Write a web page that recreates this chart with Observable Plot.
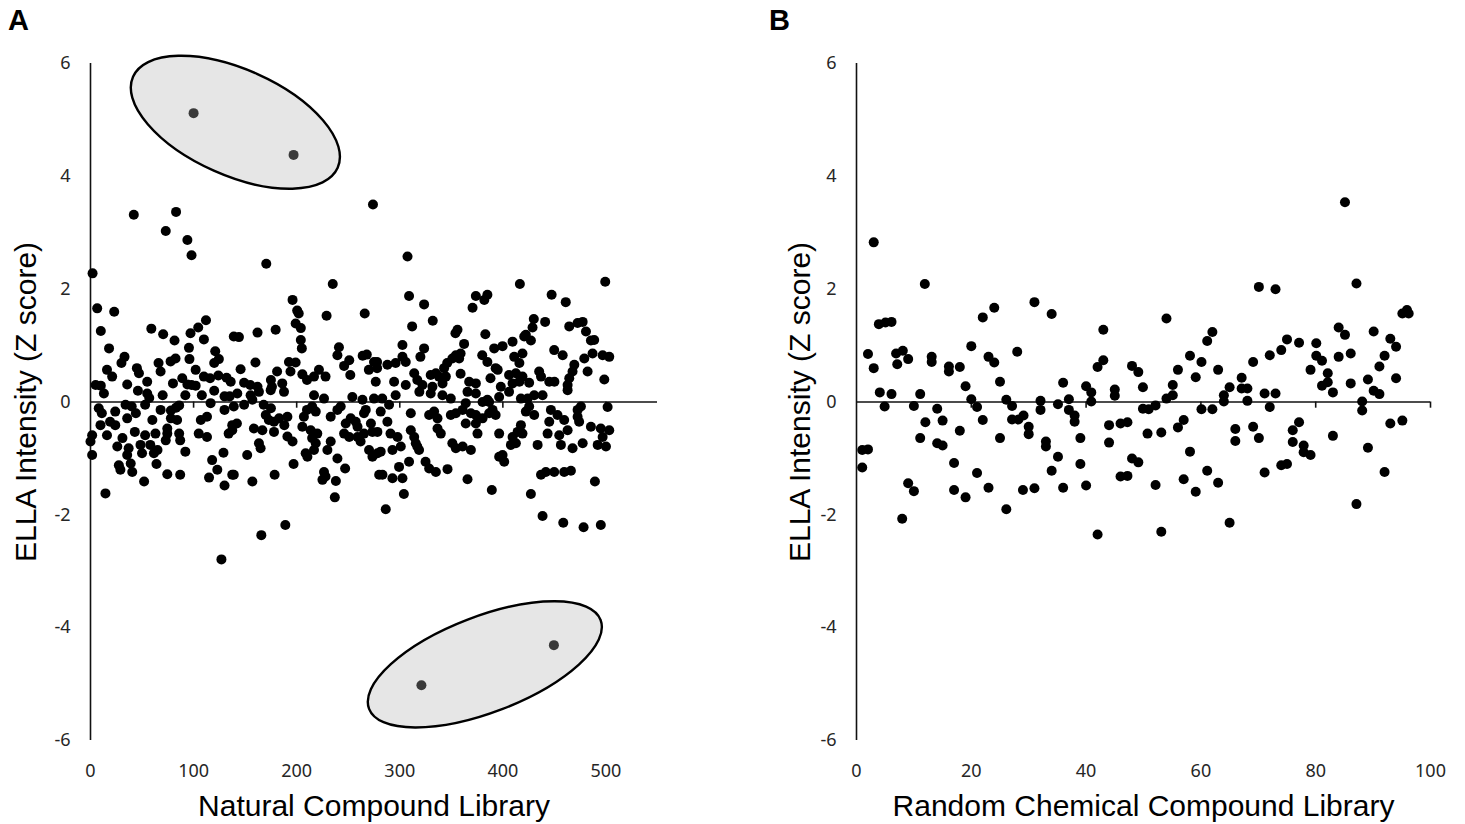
<!DOCTYPE html>
<html><head><meta charset="utf-8">
<script src="https://cdn.jsdelivr.net/npm/d3@7"></script>
<script src="https://cdn.jsdelivr.net/npm/@observablehq/plot@0.6"></script>
<style>
body{margin:0;background:#fff;}
#wrap{position:relative;width:1465px;height:824px;overflow:hidden;background:#fff;}
.letter{position:absolute;top:6px;font:bold 29px "Liberation Sans",Arial,sans-serif;line-height:29px;color:#000;}
.panel{position:absolute;top:0;}
</style></head>
<body><div id="wrap">
<div class="letter" style="left:8px">A</div>
<div class="letter" style="left:769px">B</div>
<div class="panel" id="pa" style="left:0px"></div>
<div class="panel" id="pb" style="left:765px"></div>
</div>
<script>
// ---------- data ----------
const yTicks = [-6, -4, -2, 0, 2, 4, 6];
const naturalTicks = [0, 100, 200, 300, 400, 500];
const randomTicks = [0, 20, 40, 60, 80, 100];
const yLabel = "ELLA Intensity (Z score)";
const naturalLabel = "Natural Compound Library";
const randomLabel = "Random Chemical Compound Library";

const naturalHighlighted = [[100,5.12],[197,4.38],[321,-5.02],[449.5,-4.31]];

const naturalPoints = [
[42,3.32],[83,3.37],[73,3.03],[94,2.87],[98,2.6],[2,2.28],[6.5,1.66],[23,1.6],[10,1.26],[59,1.3],[70.5,1.2],[81.5,1.09],[112,1.45],[104.5,1.32],[97,1.22],[110,1.11],[18,0.95],[95.5,0.96],[121,0.9],[33,0.8],[124.5,0.76],[82.5,0.77],[96,0.76],[30,0.69],[66,0.69],[77.7,0.72],[120,0.69],[45,0.6],[16,0.57],[68,0.54],[102,0.57],[47,0.51],[21,0.45],[89,0.42],[110,0.45],[116,0.42],[124,0.47],[132,0.43],[55,0.36],[5,0.3],[10,0.29],[35.6,0.31],[80,0.33],[98,0.3],[94,0.31],[102,0.29],[139,1.16],
[13,0.15],[46,0.2],[55,0.15],[57,0.07],[70,0.12],[92,0.12],[108,0.12],[120,0.2],[130,0.1],[135,0.1],[8,-0.11],[11,-0.2],[24,-0.17],[34,-0.05],[40,-0.08],[44,-0.2],[53,-0.05],[35.6,-0.29],[19,-0.35],[68,-0.14],[78,-0.15],[83,-0.1],[86,-0.06],[78,-0.29],[84,-0.32],[60,-0.32],[74.5,-0.47],[107,-0.32],[113,-0.26],[116.5,-0.02],[130,-0.14],[137.5,-0.41],[1.6,-0.59],[0,-0.7],[9.7,-0.41],[16,-0.59],[24,-0.41],[31,-0.64],[43,-0.53],[53,-0.59],[63,-0.56],[73,-0.68],[74.5,-0.56],[86,-0.56],[87,-0.68],[105,-0.56],[113,-0.62],[134,-0.56],[1.6,-0.94],[26,-0.79],[37,-0.82],[48.5,-0.76],[58,-0.76],[65,-0.85],[35.6,-0.94],[50,-0.91],[61.5,-0.91],[92,-0.88],[129,-0.9],[27.5,-1.12],[29,-1.2],[39,-1.09],[40.5,-1.24],[64,-1.1],[118,-1.03],[123,-1.2],[137.5,-1.29],[52,-1.41],[74.5,-1.28],[87,-1.29],[115,-1.34],[130,-1.48],[14.5,-1.62],[127,-2.79],
[274,3.5],[170.5,2.45],[235,2.09],[196,1.81],[200.5,1.62],[202,1.57],[229,1.53],[266,1.57],[199,1.39],[204,1.31],[204,1.1],[205,0.95],[144,1.15],[162,1.23],[179.6,1.28],[241,0.97],[239.5,0.83],[251,0.74],[246,0.64],[264,0.82],[268,0.84],[275,0.71],[278,0.6],[270,0.57],[276.7,0.36],[145.6,0.58],[160,0.7],[192.5,0.71],[199,0.7],[194,0.54],[181,0.54],[205.5,0.49],[210,0.39],[221.6,0.57],[216.8,0.45],[228,0.45],[175,0.39],[176,0.27],[186,0.33],[252,0.48],[136,0.36],[149,0.34],[155,0.3],[162,0.27],
[142.4,0.15],[155.3,0.12],[163.4,0.18],[174.8,0.21],[187.7,0.18],[216.8,0.12],[226.5,0.06],[254,0.09],[263.8,0.04],[275,0.06],[139,-0.08],[149,-0.05],[157,0.04],[168,-0.05],[175,-0.11],[170,-0.23],[173,-0.32],[178,-0.35],[183,-0.29],[188,-0.41],[191,-0.26],[207,-0.26],[210,-0.14],[215,-0.08],[218.5,-0.17],[142,-0.38],[137.5,-0.5],[158.5,-0.47],[166.7,-0.5],[178,-0.53],[205.5,-0.44],[213.6,-0.5],[220,-0.56],[215,-0.64],[218.5,-0.73],[216.8,-0.85],[208.7,-0.91],[210.4,-0.97],[191,-0.61],[196,-0.7],[163.4,-0.73],[165,-0.82],[152,-0.94],[197,-1.1],[139,-1.29],[157,-1.41],[178.6,-1.29],[226.5,-1.24],[228,-1.32],[225,-1.38],[238,-1.4],[237,-1.69],[247,-1.18],[189,-2.18],[165.7,-2.36],[233,-0.26],[239.5,-0.14],[242.7,-0.08],[247.6,-0.38],[252.4,-0.29],[257.3,-0.35],[259,-0.44],[265.3,-0.2],[267,-0.14],[272,-0.38],[273.5,-0.53],[265.3,-0.56],[259,-0.62],[262,-0.7],[251,-0.62],[246,-0.56],[233,-0.7],[229.8,-0.85],[239.5,-1.0],[270.2,-0.85],[273.5,-0.97],[278.4,-0.91],[280,-1.29],
[307.5,2.58],[416.5,2.09],[309,1.88],[323.6,1.73],[373.8,1.88],[385,1.9],[382,1.81],[370.6,1.67],[312,1.34],[332,1.44],[356,1.28],[354,1.22],[383,1.2],[302.6,1.01],[323.6,0.95],[320,0.8],[362.4,1.03],[359,0.86],[357.6,0.77],[391.6,0.95],[399.7,0.99],[409.4,1.07],[420.7,1.16],[380,0.83],[385,0.71],[393,0.6],[411,0.8],[419,0.86],[416,0.69],[278,0.71],[288,0.66],[296,0.69],[302.6,0.8],[305.8,0.71],[346,0.69],[351,0.77],[354.4,0.83],[343,0.6],[335,0.51],[330,0.48],[338,0.45],[344.7,0.45],[314,0.51],[317,0.39],[359,0.5],[388,0.42],[395,0.57],[406,0.48],[412.6,0.51],[419,0.45],[416,0.36],[294.5,0.36],[305.8,0.3],[322,0.3],[331.7,0.27],[341.5,0.33],[367.3,0.36],[373.8,0.33],[398,0.27],[409.4,0.33],
[283,0.06],[296,0.12],[319,0.18],[330,0.15],[341.4,0.12],[349.5,0.06],[365.7,0.18],[373.8,0.15],[385,0.04],[396.4,0.09],[406,0.18],[417.5,0.06],[281.5,-0.17],[289.6,-0.05],[288,-0.35],[278.3,-0.53],[310.7,-0.2],[328.5,-0.23],[333.3,-0.17],[336.6,-0.29],[336.6,-0.47],[339.8,-0.56],[291,-0.56],[297.8,-0.62],[301,-0.79],[292.9,-0.85],[281.5,-0.88],[310.7,-0.5],[314,-0.62],[315.5,-0.73],[318.7,-0.85],[317,-0.79],[349.5,-0.23],[354.4,-0.2],[361,-0.14],[364,-0.02],[369,-0.2],[373.8,-0.23],[373.8,-0.38],[380.3,-0.29],[386.7,-0.2],[390,-0.14],[393,-0.23],[380.3,0],[386.7,0],[364,-0.38],[375.4,-0.56],[396.4,-0.56],[409.4,-0.62],[407.8,-0.76],[414.3,-0.53],[417.5,-0.41],[419,-0.56],[351,-0.73],[354.4,-0.82],[361,-0.79],[369,-0.85],[396.4,-0.97],[401.3,-1.06],[399.7,-0.94],[309,-1.06],[299.3,-1.15],[283.2,-1.29],[292.9,-1.35],[302.6,-1.35],[325,-1.06],[328.5,-1.18],[335,-1.24],[346.3,-1.19],[365.7,-1.37],[304,-1.63],[389.3,-1.56],[286.4,-1.9],
[499.3,2.13],[447.3,1.9],[461,1.77],[430,1.47],[441,1.42],[428.8,1.32],[464.4,1.34],[472.5,1.4],[477.4,1.42],[480.6,1.25],[485.4,1.09],[488.6,1.1],[422.3,1.19],[427.2,1.09],[449.8,0.92],[458,0.83],[479,0.77],[487,0.86],[496.8,0.83],[503.2,0.8],[469.3,0.66],[467.6,0.54],[464.4,0.42],[462.8,0.3],[482.2,0.54],[435.2,0.54],[437,0.45],[445,0.36],[450,0.36],[425.5,0.34],[498.4,0.4],
[424,0.06],[430.4,0.12],[438.5,0.12],[425.5,-0.08],[430.4,-0.23],[422.3,-0.17],[462.8,0.21],[446.6,-0.14],[445,-0.35],[453,-0.23],[459.5,-0.32],[462.8,-0.5],[454.7,-0.59],[443.4,-0.56],[456.3,-0.76],[472.5,-0.14],[475.7,-0.08],[474,-0.35],[472.5,-0.26],[501.6,-0.09],[485.4,-0.44],[495,-0.47],[503.2,-0.5],[496.8,-0.62],[492,-0.76],[500,-0.79],[477.4,-0.73],[467.6,-0.82],[433.7,-0.76],[412.6,-0.73],[437,-1.29],[441.7,-1.24],[449.8,-1.24],[459.5,-1.24],[466,-1.22],[489.3,-1.41],[427.2,-1.63],[438.5,-2.02],[458.6,-2.14],[478.3,-2.22],[495,-2.18]
];

const randomPoints = [
[3,2.83],[11.9,2.09],[3.9,1.38],[5.05,1.41],[6.1,1.42],[2,0.85],[3,0.6],[4.06,0.17],[6.1,0.14],[4.9,-0.08],[6.9,0.86],[8.07,0.91],[9,0.76],[7.1,0.67],[11.1,0.14],[10,-0.07],[1,-0.85],[2,-0.84],[1,-1.16],[9,-1.44],[10,-1.58],[7.96,-2.07],[13.1,0.8],[13.1,0.71],[11.1,-0.64],[12,-0.36],[14.06,-0.12],[15,-0.33],[14.06,-0.73],[15,-0.77],[16.1,0.63],[16.1,0.54],[18,0.62],[19,0.28],[20,0.99],[20,0.05],[21,-0.09],[22,-0.32],[18,-0.51],[17,-1.08],[17,-1.56],[19,-1.69],[21,-1.26],[23,-1.52],[22,1.5],[24,1.67],[23,0.8],[24,0.7],[25,0.36],[25,-0.64],[26.1,-1.9],[26.1,0.04],[27.1,-0.07],[28,0.89],[27.1,-0.31],[28.2,-0.31],[29.1,-0.24],[30,-0.44],[30,-0.57],[29,-1.56],[31,-1.53],[31,1.77],[32.06,0.02],[32.06,-0.14],[33,-0.7],[33,-0.79],[34,1.56],[34,-1.22],[35.1,-0.04],[35.1,-0.97],[36,0.34],[36,-1.52],[37,0.05],[37,-0.14],[38,-0.24],[38,-0.35],[39,-0.64],[39,-1.1],[40,0.28],[40.9,0.17],[40.9,0.01],[40,-1.48],[42,-2.35],[42,0.62],[43,0.74],[43,1.28],[44,-0.41],[44,-0.72],[45,0.22],[45,0.11],[46,-0.38],[47.2,-0.36],[46,-1.32],[47.2,-1.31],[48,0.64],[49.1,0.53],[48,-1.0],[49.1,-1.07],[49.9,0.26],[49.9,-0.12],[50.7,-0.56],
[50.9,-0.13],[52.1,-0.06],[53.1,-0.54],[52.1,-1.47],[53.1,-2.3],[54,1.48],[54,0.06],[55.1,0.12],[55.1,0.3],[56,0.57],[56,-0.45],[57,-0.32],[57,-1.37],[58.1,-0.88],[58.1,0.82],[60.1,0.71],[59.1,0.44],[59.1,-1.59],[60.1,-0.13],[62,-0.13],[61.1,-1.22],[61.1,1.08],[62,1.24],[63,0.57],[63,-1.43],[64,0.12],[64,0.01],[65,0.26],[65,-2.14],[66,-0.48],[66,-0.69],[67.1,0.43],[67.1,0.24],[68.1,0.24],[68.1,0.02],[69.1,0.71],[69.1,-0.44],[70.1,-0.64],[70.1,2.04],[71.1,0.15],[73,0.15],[72,-0.09],[71.1,-1.25],[72,0.83],[73,2.0],[74,0.92],[75,1.11],[74,-1.12],[75,-1.1],[76,-0.5],[77.1,-0.36],[76,-0.71],[77.1,1.05],[77.9,-0.77],[77.9,-0.89],[79.1,-0.94],[79.1,0.57],[80.1,1.04],[80.1,0.82],[81.1,0.73],[81.1,0.29],[82.1,0.51],[82.1,0.35],[83,0.17],[83,-0.6],[84,1.32],[85.1,1.19],[84,0.8],[85.1,3.54],[86.1,0.86],[86.1,0.33],[87.1,2.1],[87.1,-1.81],[88.1,0.01],[88.1,-0.15],[89.1,0.4],[89.1,-0.81],[90.1,1.25],[90.1,0.2],[91.1,0.14],[91.1,0.63],[92,0.82],[92,-1.24],[93,1.12],[94,0.98],[93,-0.38],[94,0.42],[95.1,-0.33],[95.1,1.57],[95.9,1.63],[96.2,1.57]
];

// highlight ellipses: centre in data units
const naturalEllipses = [
  {cx: 141, cy: 4.95, angle: 24, rx: 112, ry: 53},
  {cx: 383, cy: -4.66, angle: -21, rx: 124, ry: 48}
];

// ---------- drawing ----------
const ellipseMark = (ells) => (index, scales) => {
  const g = d3.create("svg:g");
  for (const e of ells) {
    g.append("ellipse")
      .attr("transform", `translate(${scales.x(e.cx)},${scales.y(e.cy)}) rotate(${e.angle})`)
      .attr("rx", e.rx).attr("ry", e.ry)
      .attr("fill", "#e6e6e6").attr("stroke", "#000").attr("stroke-width", 2.4);
  }
  return g.node();
};

function panel({points, highlight = [], ellipses = [], xDomain, xTicks, xLabel, marginLeft, marginRight, yLabelDx}) {
  const tickMarks = xTicks.filter(d => d > 0);
  return Plot.plot({
    width: 700, height: 824,
    marginLeft, marginRight, marginTop: 63, marginBottom: 84,
    x: {domain: xDomain},
    y: {domain: [-6, 6]},
    style: {fontFamily: "'Noto Sans', 'Open Sans', sans-serif", fontSize: "18px", color: "#262626", background: "transparent", overflow: "visible"},
    marks: [
      ellipses.length ? ellipseMark(ellipses) : null,
      Plot.ruleX([0], {y1: -6, y2: 6, stroke: "#111", strokeWidth: 1.6}),
      Plot.ruleY([0], {x1: xDomain[0], x2: xDomain[1], stroke: "#111", strokeWidth: 1.6}),
      Plot.ruleX(tickMarks, {y1: 0, y2: -0.11, stroke: "#111", strokeWidth: 1.6}),
      Plot.axisX({ticks: xTicks, tickSize: 0, tickPadding: 24, fontSize: 18, label: null, tickFormat: d => String(d)}),
      Plot.axisY({ticks: yTicks, tickSize: 0, tickPadding: 20, fontSize: 18, label: null, tickFormat: d => String(d)}),
      Plot.dot(points, {x: d => d[0], y: d => d[1], r: 5, fill: "#000"}),
      Plot.dot(highlight, {x: d => d[0], y: d => d[1], r: 5, fill: "#3a3a3a"}),
      Plot.text([yLabel], {frameAnchor: "left", dx: yLabelDx, rotate: -90, textAnchor: "middle", lineAnchor: "middle", fontSize: 30, fontFamily: "'Liberation Sans', Arial, sans-serif", fill: "#000", text: d => d}),
      Plot.text([xLabel], {frameAnchor: "bottom", dy: 66, textAnchor: "middle", lineAnchor: "middle", fontSize: 30, fontFamily: "'Liberation Sans', Arial, sans-serif", fill: "#000", text: d => d})
    ].filter(Boolean)
  });
}

document.getElementById("pa").append(panel({
  points: naturalPoints, highlight: naturalHighlighted, ellipses: naturalEllipses,
  xDomain: [0, 550], xTicks: naturalTicks, xLabel: naturalLabel,
  marginLeft: 90, marginRight: 43, yLabelDx: -64
}));
document.getElementById("pb").append(panel({
  points: randomPoints,
  xDomain: [0, 100], xTicks: randomTicks, xLabel: randomLabel,
  marginLeft: 91, marginRight: 35, yLabelDx: -56
}));
</script>
</body></html>
